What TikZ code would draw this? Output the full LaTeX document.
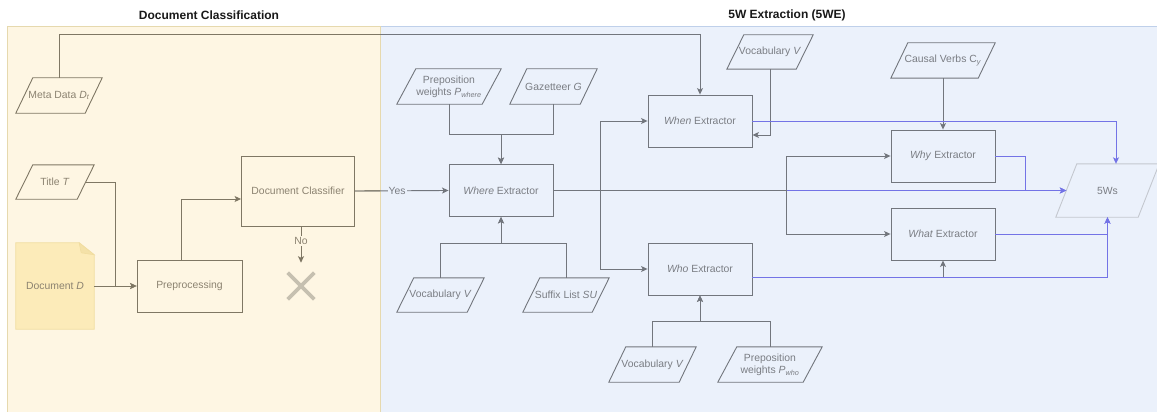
\documentclass[tikz,border=0pt]{standalone}
\usepackage{fontspec}
\setmainfont{Liberation Sans}
\usetikzlibrary{arrows.meta,shapes.misc}

\definecolor{yellowbg}{HTML}{FEF6E3}
\definecolor{yellowedge}{HTML}{E6D9AE}
\definecolor{bluebg}{HTML}{EBF1FB}
\definecolor{blueedge}{HTML}{BFD0EA}
\definecolor{lineB}{HTML}{72767D}
\definecolor{lineY}{HTML}{7F7764}
\definecolor{inkB}{HTML}{7A7D83}
\definecolor{inkY}{HTML}{8B8270}
\definecolor{flow}{HTML}{7373E6}
\definecolor{docfill}{HTML}{FCEBB9}
\definecolor{docedge}{HTML}{F1DDA0}
\definecolor{stopcol}{HTML}{C6C0B0}
\definecolor{outedge}{HTML}{C4C8CF}

\pgfdeclarelayer{back}
\pgfsetlayers{back,main}

\tikzset{
  txt/.style={font=\fontsize{10.4}{12}\selectfont, inner sep=0pt, align=center},
  titletext/.style={font=\bfseries\fontsize{12}{14}\selectfont, text=black!90},
  boxB/.style={txt, draw=lineB, text=inkB, line width=0.9pt, minimum width=104pt, minimum height=52pt},
  boxY/.style={txt, draw=lineY, text=inkY, line width=0.9pt},
  ioB/.style={draw=lineB, line width=0.9pt},
  ioY/.style={draw=lineY, line width=0.9pt},
  ioOut/.style={draw=outedge, line width=0.9pt},
  tip/.style={-{Stealth[length=6.5pt,width=6pt,inset=1.5pt]}},
  arB/.style={draw=lineB, line width=0.9pt, tip},
  arY/.style={draw=lineY, line width=0.9pt, tip},
  arF/.style={draw=flow, line width=0.9pt, tip},
  lab/.style={txt, text=inkB, inner xsep=1pt, inner ysep=1pt},
}

% data node: name, centre, width, height, slant, outline style, text colour, text
\newcommand\datanode[8]{%
  \node[txt, text=#7, minimum width=#3, minimum height=#4] (#1) at (#2) {#8};
  \draw[#6] ([xshift=#5]#1.north west) -- (#1.north east)
    -- ([xshift=-#5]#1.south east) -- (#1.south west) -- cycle;}

\begin{document}
\begin{tikzpicture}[x=1pt,y=-1pt]
\useasboundingbox (0,0) rectangle (1157,412);

% lanes
\begin{pgfonlayer}{back}
  \fill[white] (0,0) rectangle (1157,412);
  \filldraw[fill=bluebg, draw=blueedge, line width=0.8pt] (380,26) rectangle (1162,416);
  \filldraw[fill=yellowbg, draw=yellowedge, line width=0.8pt] (7,26) rectangle (380,416);
\end{pgfonlayer}

\node[titletext] (lane1) at (209,15) {Document Classification};
\node[titletext] (lane2) at (787,15) {5W Extraction (5WE)};

% ---- document classification ----
\datanode{meta}{59,95.5}{86pt}{35pt}{17pt}{ioY}{inkY}{Meta Data \textit{D}\textsubscript{\textit{t}}}
\datanode{title}{55,182}{78pt}{34pt}{17pt}{ioY}{inkY}{Title \textit{T}}

\node[txt, text=inkY, minimum width=78pt, minimum height=86pt] (doc) at (55,286) {Document \textit{D}};
\begin{pgfonlayer}{back}
  \filldraw[fill=docfill, draw=docedge, line width=0.8pt]
    (doc.north west) -- ([xshift=-15pt]doc.north east) -- ([yshift=-12pt]doc.north east)
    -- (doc.south east) -- (doc.south west) -- cycle;
  \filldraw[fill=docedge!70!docfill, draw=docedge, line width=0.6pt]
    ([xshift=-15pt]doc.north east) -- ([xshift=-13pt,yshift=-10pt]doc.north east)
    -- ([yshift=-12pt]doc.north east) -- cycle;
\end{pgfonlayer}

\node[boxY, minimum width=105pt, minimum height=52pt] (preproc) at (189.5,286) {Preprocessing};
\node[boxY, minimum width=113pt, minimum height=70pt] (classifier) at (298,191) {Document Classifier};
\node[cross out, draw=stopcol, line width=3.6pt, minimum size=23pt, inner sep=0pt] (stop) at (301,286) {};

\draw[arY] (doc.east) -- (preproc.west);
\draw[arY] ([xshift=-8.5pt]title.east) -| ([xshift=-21pt]preproc.west) -- (preproc.west);
\draw[arY] ([xshift=-8.5pt]preproc.north) |- ([yshift=-8pt]classifier.west);
\draw[arY] (classifier.south -| stop) -- node[lab, text=inkY, fill=yellowbg, pos=0.4] {No} ([yshift=10pt]stop.north);

% ---- 5W extraction ----
\node[boxB] (where) at (501,190.5) {\textit{Where} Extractor};
\node[boxB] (when) at (700,121) {\textit{When} Extractor};
\node[boxB] (who) at (700,269) {\textit{Who} Extractor};
\node[boxB] (why) at (943,156) {\textit{Why} Extractor};
\node[boxB] (what) at (943,234) {\textit{What} Extractor};

\datanode{pwhere}{449,86.5}{104pt}{35pt}{19pt}{ioB}{inkB}{Preposition\\weights \textit{P}\textsubscript{\textit{where}}}
\datanode{gaz}{553.5,86.5}{87pt}{35pt}{17pt}{ioB}{inkB}{Gazetteer \textit{G}}
\datanode{vocabA}{440.5,295}{87pt}{34pt}{17pt}{ioB}{inkB}{Vocabulary \textit{V}}
\datanode{suffix}{566,295}{86pt}{34pt}{17pt}{ioB}{inkB}{Suffix List \textit{SU}}
\datanode{vocabB}{770,52}{86pt}{34pt}{17pt}{ioB}{inkB}{Vocabulary \textit{V}}
\datanode{causal}{943,60.5}{104pt}{35pt}{17pt}{ioB}{inkB}{Causal Verbs C\textsubscript{\textit{y}}}
\datanode{vocabC}{652.5,364.5}{87pt}{35pt}{17pt}{ioB}{inkB}{Vocabulary \textit{V}}
\datanode{pwho}{770,364.5}{104pt}{35pt}{19pt}{ioB}{inkB}{Preposition\\weights \textit{P}\textsubscript{\textit{who}}}
\datanode{fivews}{1107.5,190.5}{103pt}{53pt}{21pt}{ioOut}{inkB}{5Ws}

% metadata goes straight to the time extractor
\draw[arB] (meta.north) |- ([yshift=60pt]when.north) -- (when.north);
\begin{scope}
  \clip (0,0) rectangle (380,412);
  \draw[arY] (meta.north) |- ([yshift=60pt]when.north) -- (when.north);
\end{scope}

% accepted documents
\draw[arF] (where.east) -- ([xshift=10.5pt]fivews.west);
\draw[arB] (classifier.east) -- node[lab, fill=bluebg, pos=0.45] {Yes} (where.west);
\begin{scope}
  \clip (0,0) rectangle (380,412);
  \draw[arY] (classifier.east) -- (where.west);
\end{scope}

% resources of the extractors
\draw[arB] (pwhere.south) |- ([yshift=30pt]where.north) -- (where.north);
\draw[arB] (gaz.south) |- ([yshift=30pt]where.north) -- (where.north);
\draw[arB] (vocabA.north) |- ([yshift=-26pt]where.south) -- (where.south);
\draw[arB] (suffix.north) |- ([yshift=-26pt]where.south) -- (where.south);
\draw[arB] (vocabB.south) |- ([yshift=-14pt]when.east);
\draw[arB] (causal.south) -- (why.north);
\draw[arB] (vocabC.north) |- ([yshift=-26pt]who.south) -- (who.south);
\draw[arB] (pwho.north) |- ([yshift=-26pt]who.south) -- (who.south);

% extractor chain
\draw[arB] (where.east) -| ([xshift=-47pt]when.west) -- (when.west);
\draw[arB] (where.east) -| ([xshift=-47pt]who.west) -- (who.west);
\draw[arB] (where.east) -| ([xshift=-104pt]why.west) -- (why.west);
\draw[arB] (where.east) -| ([xshift=-104pt]what.west) -- (what.west);
\draw[arB] ([yshift=-8.5pt]who.east) -| (what.south);

% answers collected in 5Ws
\draw[arF] (when.east) -| ([xshift=8.5pt]fivews.north);
\draw[arF] (why.east) -| ([xshift=-30pt]fivews.west) -- ([xshift=10.5pt]fivews.west);
\draw[arF] (what.east) -| (fivews.south);
\draw[flow, line width=0.9pt] ([yshift=-8.5pt]who.east) -- ([yshift=-8.5pt]who.east -| what.south);
\draw[arF] ([yshift=-8.5pt]who.east -| what.south) -| (fivews.south);

\end{tikzpicture}
\end{document}
